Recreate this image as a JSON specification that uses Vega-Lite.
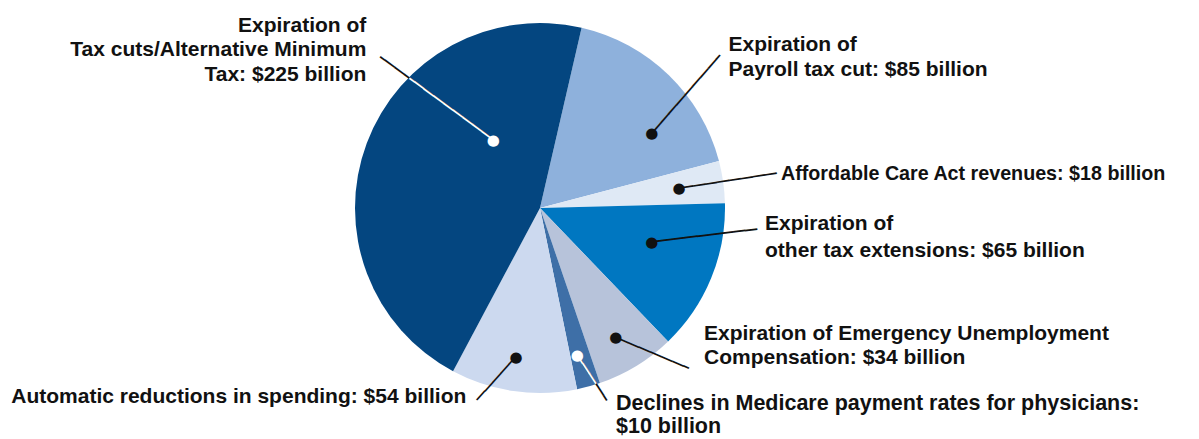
{
  "$schema": "https://vega.github.io/schema/vega-lite/v6.json",
  "width": 1080,
  "height": 416,
  "autosize": {"type": "none"},
  "padding": {"left": 0, "top": 0, "right": 119, "bottom": 23},
  "background": "white",
  "config": {"view": {"stroke": null}},
  "data": {
    "values": [
      {"key": "payroll", "category": "Expiration of Payroll tax cut", "value": 85, "ord": 1, "label": "Expiration of\nPayroll tax cut: $85 billion"},
      {"key": "aca", "category": "Affordable Care Act revenues", "value": 18, "ord": 2, "label": "Affordable Care Act revenues: $18 billion"},
      {"key": "other", "category": "Expiration of other tax extensions", "value": 65, "ord": 3, "label": "Expiration of\nother tax extensions: $65 billion"},
      {"key": "euc", "category": "Expiration of Emergency Unemployment Compensation", "value": 34, "ord": 4, "label": "Expiration of Emergency Unemployment\nCompensation: $34 billion"},
      {"key": "medicare", "category": "Declines in Medicare payment rates for physicians", "value": 10, "ord": 5, "label": "Declines in Medicare payment rates for physicians:\n$10 billion"},
      {"key": "auto", "category": "Automatic reductions in spending", "value": 54, "ord": 6, "label": "Automatic reductions in spending: $54 billion"},
      {"key": "tax", "category": "Expiration of Tax cuts/Alternative Minimum Tax", "value": 225, "ord": 7, "label": "Expiration of\nTax cuts/Alternative Minimum\nTax: $225 billion"}
    ]
  },
  "encoding": {
    "theta": {"field": "value", "type": "quantitative", "stack": true, "scale": {"domain": [0, 491], "range": [0.22689, 6.51008]}},
    "order": {"field": "ord", "type": "quantitative"},
    "detail": {"field": "category", "type": "nominal"}
  },
  "layer": [
    {
      "mark": {"type": "arc", "outerRadius": 185, "stroke": null},
      "encoding": {
        "color": {"field": "category", "type": "nominal", "legend": null,
          "scale": {
            "domain": ["Expiration of Payroll tax cut", "Affordable Care Act revenues", "Expiration of other tax extensions", "Expiration of Emergency Unemployment Compensation", "Declines in Medicare payment rates for physicians", "Automatic reductions in spending", "Expiration of Tax cuts/Alternative Minimum Tax"],
            "range": ["#8eb1dc", "#dfe9f5", "#0077c1", "#b7c3da", "#3e6fa7", "#ccd9ef", "#044680"]
          }}
      }
    },
    {"mark": {"type": "text", "radius": 82.5, "thetaOffset": 0.6109, "angle": 216.3, "font": "DejaVu Sans", "fontSize": 20, "baseline": "middle", "align": "left", "dx": 2.1, "dy": 1},
     "encoding": {"text": {"condition": {"test": "datum.key === 'tax'", "value": "───────────╴"}, "value": ""}, "color": {"value": "#111111"}}},
    {"mark": {"type": "text", "radius": 134.4, "thetaOffset": 0.2101, "angle": 311.1, "font": "DejaVu Sans", "fontSize": 20, "baseline": "middle", "align": "left", "dx": 1.6, "dy": 1},
     "encoding": {"text": {"condition": {"test": "datum.key === 'payroll'", "value": "────────╴"}, "value": ""}, "color": {"value": "#111111"}}},
    {"mark": {"type": "text", "radius": 140.4, "thetaOffset": -0.0019, "angle": 351.3, "font": "DejaVu Sans", "fontSize": 20, "baseline": "middle", "align": "left", "dx": 2.5, "dy": 1},
     "encoding": {"text": {"condition": {"test": "datum.key === 'aca'", "value": "────────"}, "value": ""}, "color": {"value": "#111111"}}},
    {"mark": {"type": "text", "radius": 116.7, "thetaOffset": -0.0969, "angle": 353.1, "font": "DejaVu Sans", "fontSize": 20, "baseline": "middle", "align": "left", "dx": -2.3, "dy": 1},
     "encoding": {"text": {"condition": {"test": "datum.key === 'other'", "value": "─────────"}, "value": ""}, "color": {"value": "#111111"}}},
    {"mark": {"type": "text", "radius": 149.8, "thetaOffset": 0.0176, "angle": 22.9, "font": "DejaVu Sans", "fontSize": 20, "baseline": "middle", "align": "left", "dx": 1.3, "dy": 1},
     "encoding": {"text": {"condition": {"test": "datum.key === 'euc'", "value": "──────╴"}, "value": ""}, "color": {"value": "#111111"}}},
    {"mark": {"type": "text", "radius": 151.7, "thetaOffset": 0.0172, "angle": 56.8, "font": "DejaVu Sans", "fontSize": 20, "baseline": "middle", "align": "left", "dx": 0, "dy": 1},
     "encoding": {"text": {"condition": {"test": "datum.key === 'medicare'", "value": "────╴"}, "value": ""}, "color": {"value": "#111111"}}},
    {"mark": {"type": "text", "radius": 150.6, "thetaOffset": 0.0163, "angle": 132, "font": "DejaVu Sans", "fontSize": 20, "baseline": "middle", "align": "left", "dx": -1.9, "dy": 1},
     "encoding": {"text": {"condition": {"test": "datum.key === 'auto'", "value": "─────"}, "value": ""}, "color": {"value": "#111111"}}},
    {"mark": {"type": "text", "radius": 82.5, "thetaOffset": 0.6109, "angle": 216.3, "font": "DejaVu Sans", "fontSize": 20, "baseline": "middle", "align": "left", "dx": 2, "dy": 1},
     "encoding": {"text": {"condition": {"test": "datum.key === 'tax'", "value": "────────╴"}, "value": ""}, "color": {"value": "#ffffff"}}},
    {"mark": {"type": "text", "radius": 151.7, "thetaOffset": 0.0172, "angle": 56.8, "font": "DejaVu Sans", "fontSize": 20, "baseline": "middle", "align": "left", "dx": -2, "dy": 1},
     "encoding": {"text": {"condition": {"test": "datum.key === 'medicare'", "value": "───"}, "value": ""}, "color": {"value": "#ffffff"}}},
    {"mark": {"type": "text", "radius": 82.5, "thetaOffset": 0.6109, "font": "DejaVu Sans", "fontSize": 15, "baseline": "middle", "align": "center"},
     "encoding": {"text": {"condition": {"test": "datum.key === 'tax'", "value": "●"}, "value": ""}, "color": {"value": "#ffffff"}}},
    {"mark": {"type": "text", "radius": 134.4, "thetaOffset": 0.2101, "font": "DejaVu Sans", "fontSize": 15, "baseline": "middle", "align": "center"},
     "encoding": {"text": {"condition": {"test": "datum.key === 'payroll'", "value": "●"}, "value": ""}, "color": {"value": "#111111"}}},
    {"mark": {"type": "text", "radius": 140.4, "thetaOffset": -0.0019, "font": "DejaVu Sans", "fontSize": 15, "baseline": "middle", "align": "center"},
     "encoding": {"text": {"condition": {"test": "datum.key === 'aca'", "value": "●"}, "value": ""}, "color": {"value": "#111111"}}},
    {"mark": {"type": "text", "radius": 116.7, "thetaOffset": -0.0969, "font": "DejaVu Sans", "fontSize": 15, "baseline": "middle", "align": "center"},
     "encoding": {"text": {"condition": {"test": "datum.key === 'other'", "value": "●"}, "value": ""}, "color": {"value": "#111111"}}},
    {"mark": {"type": "text", "radius": 149.8, "thetaOffset": 0.0176, "font": "DejaVu Sans", "fontSize": 15, "baseline": "middle", "align": "center"},
     "encoding": {"text": {"condition": {"test": "datum.key === 'euc'", "value": "●"}, "value": ""}, "color": {"value": "#111111"}}},
    {"mark": {"type": "text", "radius": 151.7, "thetaOffset": 0.0172, "font": "DejaVu Sans", "fontSize": 15, "baseline": "middle", "align": "center"},
     "encoding": {"text": {"condition": {"test": "datum.key === 'medicare'", "value": "●"}, "value": ""}, "color": {"value": "#ffffff"}}},
    {"mark": {"type": "text", "radius": 150.6, "thetaOffset": 0.0163, "font": "DejaVu Sans", "fontSize": 15, "baseline": "middle", "align": "center"},
     "encoding": {"text": {"condition": {"test": "datum.key === 'auto'", "value": "●"}, "value": ""}, "color": {"value": "#111111"}}},
    {"mark": {"type": "text", "radius": 247.6, "thetaOffset": 0.4353, "font": "Liberation Sans", "fontWeight": "bold", "fontSize": 21, "lineHeight": 24.5, "lineBreak": "\n", "align": "right", "baseline": "alphabetic"},
     "encoding": {"text": {"condition": {"test": "datum.key === 'tax'", "field": "label", "type": "nominal"}, "value": ""}, "color": {"value": "#111111"}}},
    {"mark": {"type": "text", "radius": 245.6, "thetaOffset": 0.1040, "font": "Liberation Sans", "fontWeight": "bold", "fontSize": 21, "lineHeight": 25, "lineBreak": "\n", "align": "left", "baseline": "alphabetic"},
     "encoding": {"text": {"condition": {"test": "datum.key === 'payroll'", "field": "label", "type": "nominal"}, "value": ""}, "color": {"value": "#111111"}}},
    {"mark": {"type": "text", "radius": 242.6, "thetaOffset": 0.0253, "font": "Liberation Sans", "fontWeight": "bold", "fontSize": 19.7, "lineHeight": 25, "lineBreak": "\n", "align": "left", "baseline": "alphabetic"},
     "encoding": {"text": {"condition": {"test": "datum.key === 'aca'", "field": "label", "type": "nominal"}, "value": ""}, "color": {"value": "#111111"}}},
    {"mark": {"type": "text", "radius": 226.1, "thetaOffset": -0.2913, "font": "Liberation Sans", "fontWeight": "bold", "fontSize": 21, "lineHeight": 27, "lineBreak": "\n", "align": "left", "baseline": "alphabetic"},
     "encoding": {"text": {"condition": {"test": "datum.key === 'other'", "field": "label", "type": "nominal"}, "value": ""}, "color": {"value": "#111111"}}},
    {"mark": {"type": "text", "radius": 210.5, "thetaOffset": -0.3458, "font": "Liberation Sans", "fontWeight": "bold", "fontSize": 21, "lineHeight": 24.5, "lineBreak": "\n", "align": "left", "baseline": "alphabetic"},
     "encoding": {"text": {"condition": {"test": "datum.key === 'euc'", "field": "label", "type": "nominal"}, "value": ""}, "color": {"value": "#111111"}}},
    {"mark": {"type": "text", "radius": 215.8, "thetaOffset": -0.0941, "font": "Liberation Sans", "fontWeight": "bold", "fontSize": 21.5, "lineHeight": 23.5, "lineBreak": "\n", "align": "left", "baseline": "alphabetic"},
     "encoding": {"text": {"condition": {"test": "datum.key === 'medicare'", "field": "label", "type": "nominal"}, "value": ""}, "color": {"value": "#111111"}}},
    {"mark": {"type": "text", "radius": 208.2, "thetaOffset": 0.2181, "font": "Liberation Sans", "fontWeight": "bold", "fontSize": 21, "lineHeight": 25, "lineBreak": "\n", "align": "right", "baseline": "alphabetic"},
     "encoding": {"text": {"condition": {"test": "datum.key === 'auto'", "field": "label", "type": "nominal"}, "value": ""}, "color": {"value": "#111111"}}}
  ]
}
